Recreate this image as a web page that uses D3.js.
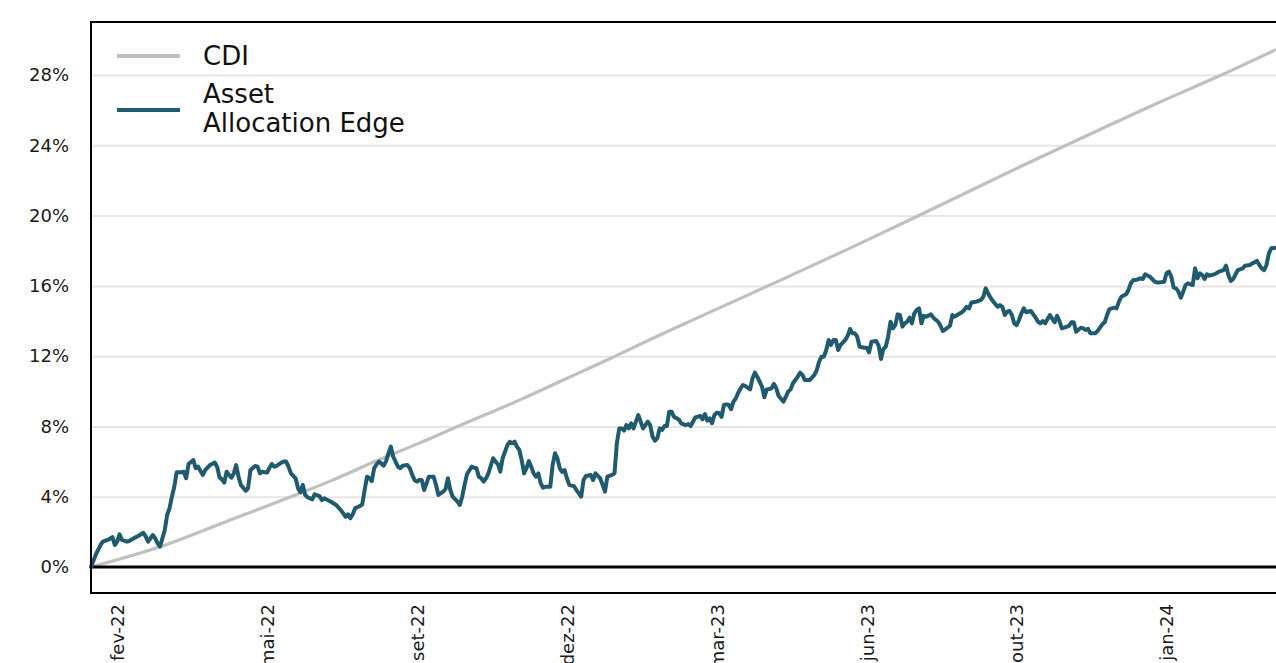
<!DOCTYPE html>
<html>
<head>
<meta charset="utf-8">
<script src="https://cdn.jsdelivr.net/npm/d3@7"></script>
<style>
  html, body { margin: 0; padding: 0; background: #fff; }
  svg { display: block; font-family: "DejaVu Sans", Verdana, sans-serif; }
</style>
</head>
<body>
<svg id="chart" width="1276" height="663"></svg>
<script>
// ---- data (x = observation index, values in %) ----
const xTickIdx = [11, 74, 137, 200, 263, 326, 389, 452];
const xTickLabels = ["fev-22", "mai-22", "set-22", "dez-22", "mar-23", "jun-23", "out-23", "jan-24"];
const yTicks = [0, 4, 8, 12, 16, 20, 24, 28];
const seriesNames = ["CDI", "Asset Allocation Edge"];

const cdiSeries = [
  [0,0],[29,1.15],[58,2.65],[87,4.15],[100,4.86],[121,6.1],[138,7.05],[155,8.05],
  [180,9.5],[201,10.8],[218,11.85],[235,12.95],[256,14.25],[291,16.4],[319,18.15],
  [344,19.75],[390,22.75],[424,24.9],[449,26.45],[475,28.0],[498,29.45]
];

const assetSeries = [
[0,0],[2,0.7],[4,1.25],[5,1.44],[7,1.54],[9,1.7],[10,1.25],[11,1.44],[12,1.86],[13,1.54],[15,1.44],[16,1.48],[18,1.63],[20,1.78],[22,1.95],[23,1.73],[24,1.44],[26,1.82],[27,1.63],[28,1.35],[29,1.16],[31,2.1],[32,2.96],[33,3.34],[34,4.0],[35,4.57],[36,5.39],[38,5.39],[39,5.42],[40,5.05],[41,5.86],[43,6.09],[44,5.62],[45,5.71],[47,5.24],[48,5.52],[50,5.8],[52,5.94],[53,5.71],[54,5.1],[55,4.99],[56,4.8],[57,5.42],[58,5.24],[59,5.08],[60,5.33],[61,5.8],[62,5.14],[63,4.67],[65,4.34],[66,4.48],[67,5.52],[69,5.75],[70,5.71],[71,5.33],[72,5.42],[74,5.37],[75,5.65],[76,5.86],[77,5.71],[78,5.75],[80,5.94],[81,6.0],[82,6.0],[83,5.71],[84,5.33],[86,5.05],[87,4.48],[88,4.25],[89,4.67],[90,4.1],[91,3.97],[93,3.85],[94,4.14],[96,4.04],[97,3.81],[98,3.91],[100,3.77],[101,3.7],[103,3.53],[105,3.24],[106,3.05],[107,2.86],[108,3.0],[109,2.77],[110,3.0],[111,3.34],[113,3.47],[114,3.57],[115,4.38],[116,5.14],[117,5.05],[118,4.89],[119,5.62],[120,5.85],[121,6.0],[123,5.77],[124,6.03],[125,6.47],[126,6.85],[127,6.28],[128,6.0],[129,5.71],[130,5.62],[131,5.77],[133,5.8],[134,5.62],[135,5.24],[136,4.95],[137,4.86],[138,4.95],[139,4.95],[140,4.38],[141,4.76],[142,5.14],[144,5.14],[145,4.67],[146,4.1],[148,4.29],[149,4.44],[150,5.05],[151,4.38],[152,4.0],[154,3.72],[155,3.53],[156,4.0],[157,4.67],[158,5.28],[160,5.71],[161,5.65],[162,5.62],[163,5.14],[164,5.05],[165,4.86],[166,5.05],[167,5.33],[169,6.19],[170,6.0],[171,5.85],[172,5.42],[173,6.19],[175,6.94],[176,7.13],[177,7.04],[178,7.13],[179,6.85],[180,6.66],[181,6.09],[182,5.33],[183,5.62],[184,6.03],[185,5.71],[186,5.33],[187,5.14],[188,5.33],[189,4.76],[190,4.51],[191,4.57],[193,4.57],[194,5.8],[195,6.47],[196,6.19],[197,5.62],[198,5.42],[199,5.52],[200,5.05],[201,4.67],[203,4.6],[204,4.38],[205,4.19],[206,4.0],[207,4.95],[208,5.18],[210,5.24],[211,4.95],[212,5.33],[214,5.05],[215,4.67],[216,4.29],[217,5.14],[219,5.24],[220,5.33],[221,7.04],[222,7.89],[223,7.89],[224,7.76],[225,8.08],[226,7.89],[227,8.18],[228,7.89],[229,8.27],[230,8.65],[231,8.27],[232,7.89],[233,8.08],[234,8.27],[235,8.08],[236,7.42],[237,7.19],[238,7.33],[239,7.89],[240,7.8],[241,8.02],[242,8.02],[243,8.84],[244,8.84],[245,8.55],[247,8.4],[248,8.18],[250,8.08],[251,8.14],[252,8.02],[253,8.27],[254,8.52],[256,8.6],[257,8.4],[258,8.71],[259,8.33],[260,8.46],[261,8.18],[262,8.65],[263,8.78],[264,8.75],[265,8.55],[266,9.22],[267,9.26],[268,9.22],[269,8.98],[270,9.41],[271,9.6],[272,9.92],[273,10.17],[274,10.36],[275,10.3],[277,10.11],[278,10.74],[279,11.06],[280,10.83],[281,10.55],[282,10.26],[283,9.66],[284,10.11],[285,10.13],[286,10.17],[287,10.42],[288,10.17],[289,9.73],[291,9.41],[292,9.69],[293,9.98],[294,10.11],[295,10.46],[297,10.83],[298,11.06],[299,10.93],[300,10.64],[301,10.64],[302,10.64],[304,10.93],[305,11.2],[306,11.69],[307,11.97],[308,11.97],[309,12.35],[310,12.92],[311,12.64],[312,12.92],[313,12.92],[314,12.35],[315,12.64],[317,12.92],[318,13.16],[319,13.55],[320,13.3],[321,13.3],[322,13.11],[323,12.54],[325,12.48],[326,12.48],[327,12.22],[328,12.82],[330,12.86],[331,12.6],[332,11.84],[333,12.41],[334,12.54],[335,13.11],[336,13.96],[337,13.58],[338,13.77],[339,14.38],[340,14.34],[341,13.68],[342,13.87],[343,13.96],[344,14.19],[345,13.87],[346,14.44],[347,14.63],[348,14.72],[349,13.87],[350,14.3],[351,14.25],[353,14.38],[354,14.19],[356,13.96],[357,13.73],[358,13.43],[360,13.62],[361,13.73],[362,14.34],[363,14.25],[364,14.34],[366,14.5],[367,14.63],[368,14.81],[369,14.72],[370,15.06],[372,15.1],[373,15.14],[374,15.2],[375,15.38],[376,15.86],[377,15.58],[378,15.33],[379,15.14],[381,14.81],[382,14.91],[383,14.81],[384,14.34],[385,14.53],[386,14.57],[387,14.34],[388,13.87],[389,13.77],[390,14.06],[391,14.44],[392,14.72],[393,14.5],[395,14.57],[396,14.38],[397,14.19],[398,13.96],[399,13.87],[400,14.0],[401,13.87],[402,14.11],[403,14.34],[404,14.12],[405,13.93],[406,14.3],[407,14.0],[408,13.58],[409,13.62],[411,13.73],[412,13.93],[413,13.93],[414,13.39],[416,13.62],[417,13.58],[418,13.49],[419,13.55],[420,13.3],[422,13.3],[423,13.43],[425,13.81],[426,13.93],[427,14.34],[428,14.68],[430,14.76],[431,14.72],[432,15.1],[433,15.38],[435,15.52],[436,15.77],[437,16.15],[438,16.33],[439,16.33],[441,16.43],[442,16.39],[443,16.66],[445,16.52],[446,16.39],[447,16.24],[448,16.2],[449,16.2],[451,16.24],[452,16.72],[453,16.81],[454,16.52],[455,15.9],[456,15.86],[457,15.67],[458,15.33],[459,15.67],[460,16.05],[461,16.15],[463,16.05],[464,17.0],[465,16.43],[466,16.72],[467,16.62],[468,16.39],[469,16.66],[470,16.58],[472,16.66],[473,16.72],[474,16.81],[476,16.9],[477,17.15],[478,16.62],[479,16.28],[480,16.39],[481,16.66],[482,16.9],[484,17.0],[485,17.15],[487,17.19],[488,17.28],[489,17.34],[490,17.42],[491,17.19],[492,17.0],[493,16.9],[494,17.19],[495,17.85],[496,18.14],[498,18.17]
];

// ---- layout ----
const plotLeft = 91, plotTop = 22, plotBottom = 593, plotRight = 1300;
const colors = { cdi: "#c0c0c0", asset: "#1f5a6e" };

const svg = d3.select("#chart");

const x = d3.scaleLinear().domain([0, 498]).range([plotLeft, 1276]);
const y = d3.scaleLinear().domain([-1.48, 31.02]).range([plotBottom, plotTop]);

// gridlines
svg.append("g")
  .attr("transform", `translate(${plotLeft},0)`)
  .call(d3.axisLeft(y).tickValues(yTicks.filter(d => d !== 0)).tickSize(-(plotRight - plotLeft)).tickFormat(""))
  .call(g => g.select(".domain").remove())
  .call(g => g.selectAll("line").attr("stroke", "#e6e6e6").attr("stroke-width", 2));

// y labels
svg.append("g")
  .attr("transform", `translate(${plotLeft},0)`)
  .call(d3.axisLeft(y).tickValues(yTicks).tickSize(0).tickPadding(22).tickFormat(d => d + "%"))
  .call(g => g.select(".domain").remove())
  .call(g => g.selectAll("text").attr("font-size", 18).attr("fill", "#1a1a1a")
     .attr("font-family", '"DejaVu Sans", Verdana, sans-serif'));

// x labels
svg.append("g")
  .attr("transform", `translate(0,${plotBottom})`)
  .call(d3.axisBottom(x).tickValues(xTickIdx).tickSize(0).tickFormat((d, i) => xTickLabels[i]))
  .call(g => g.select(".domain").remove())
  .call(g => g.selectAll("text")
     .attr("transform", "rotate(-90)")
     .attr("text-anchor", "end")
     .attr("x", -11).attr("y", 0).attr("dy", "0.35em")
     .attr("font-size", 18).attr("fill", "#1a1a1a")
     .attr("font-family", '"DejaVu Sans", Verdana, sans-serif'));

// lines
const line = d3.line().x(d => x(d[0])).y(d => y(d[1]));
const smoothLine = d3.line().curve(d3.curveMonotoneX).x(d => x(d[0])).y(d => y(d[1]));

svg.append("path").datum(cdiSeries)
  .attr("fill", "none").attr("stroke", colors.cdi).attr("stroke-width", 3.2)
  .attr("stroke-linejoin", "round").attr("d", smoothLine);

// zero line
svg.append("line")
  .attr("x1", plotLeft).attr("x2", plotRight).attr("y1", y(0)).attr("y2", y(0))
  .attr("stroke", "#000").attr("stroke-width", 3);

svg.append("path").datum(assetSeries)
  .attr("fill", "none").attr("stroke", colors.asset).attr("stroke-width", 4)
  .attr("stroke-linejoin", "round").attr("stroke-linecap", "round").attr("d", line);

// frame
svg.append("path")
  .attr("d", `M${plotRight},${plotTop}H${plotLeft}V${plotBottom}H${plotRight}`)
  .attr("fill", "none").attr("stroke", "#000").attr("stroke-width", 2);

// legend
const lg = svg.append("g");
lg.append("line").attr("x1", 117).attr("x2", 180).attr("y1", 56).attr("y2", 56)
  .attr("stroke", colors.cdi).attr("stroke-width", 4);
lg.append("text").attr("x", 203).attr("y", 65).attr("font-size", 26).attr("fill", "#111")
  .text(seriesNames[0]);
lg.append("line").attr("x1", 117).attr("x2", 180).attr("y1", 110).attr("y2", 110)
  .attr("stroke", colors.asset).attr("stroke-width", 4);
const t2 = lg.append("text").attr("x", 203).attr("y", 103).attr("font-size", 26).attr("fill", "#111");
t2.append("tspan").attr("x", 203).text("Asset");
t2.append("tspan").attr("x", 203).attr("dy", 29).text("Allocation Edge");
</script>
</body>
</html>
